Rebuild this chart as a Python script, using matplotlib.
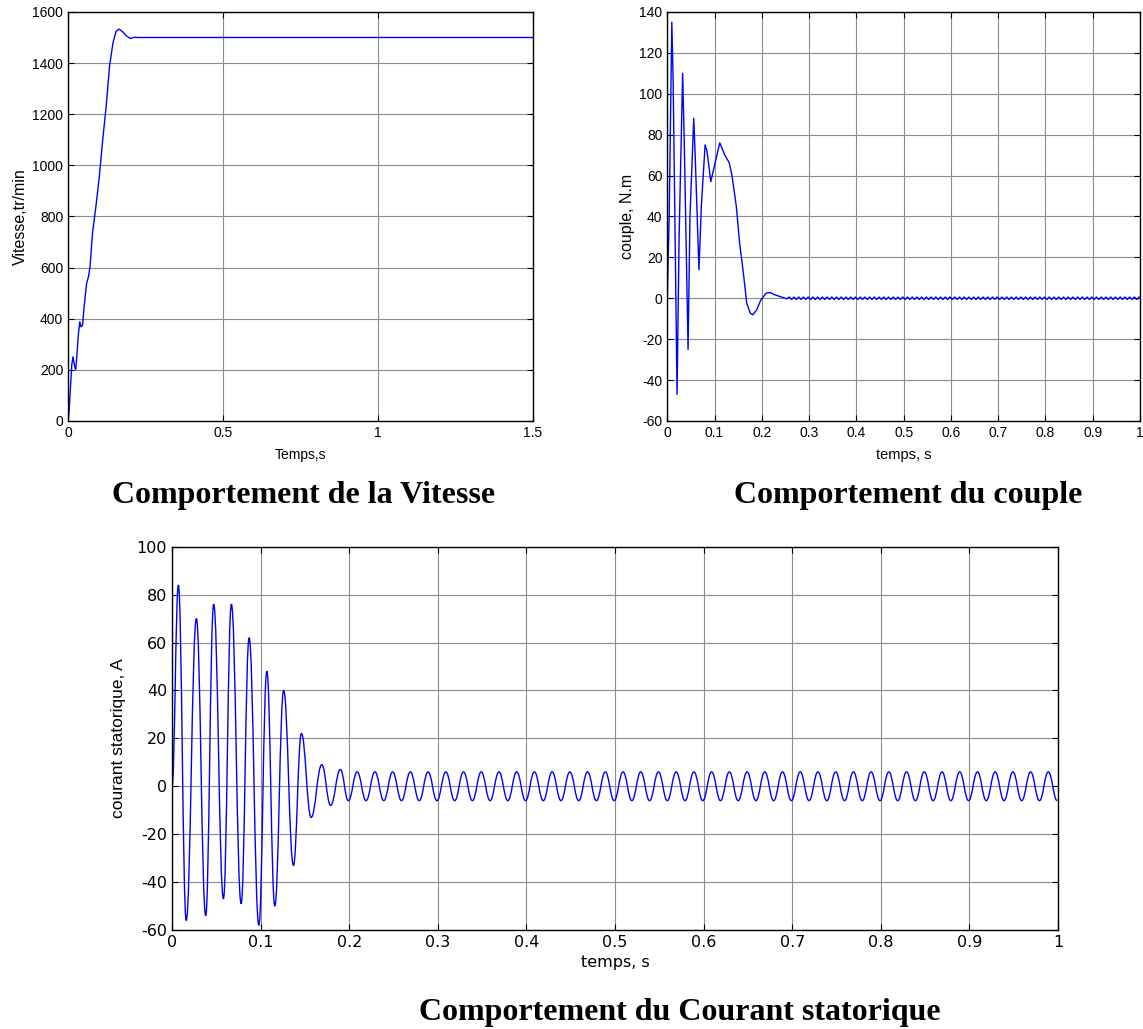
import matplotlib.pyplot as plt
import numpy as np
from matplotlib.path import Path
from matplotlib.patches import PathPatch

plt.rcParams['axes.unicode_minus'] = False

# ---- Vitesse (tr/min), points ----
vit_t = [0, 0.003, 0.0087, 0.012, 0.016, 0.0207, 0.025, 0.029, 0.0337, 0.038,
         0.042, 0.047, 0.052, 0.06, 0.066, 0.071, 0.079, 0.09, 0.101, 0.112,
         0.123, 0.134, 0.145, 0.155, 0.164, 0.175, 0.188, 0.201, 0.215, 0.226, 1.5]
vit_v = [0, 29, 146, 218, 251, 218, 201, 264, 342, 388,
         368, 375, 447, 538, 564, 603, 734, 839, 956, 1100,
         1230, 1387, 1479, 1524, 1533, 1524, 1507, 1496, 1501, 1500, 1500]

# ---- Couple (N.m), regime transitoire ----
cpl_t = [0, 0.004, 0.0096, 0.0125, 0.0207, 0.025, 0.0325, 0.036, 0.044, 0.048,
         0.056, 0.059, 0.067, 0.072, 0.080, 0.084, 0.092, 0.097, 0.111, 0.1225,
         0.131, 0.137, 0.146, 0.153, 0.161, 0.168, 0.1756, 0.181, 0.189, 0.198,
         0.209, 0.2176, 0.227, 0.238, 0.253]
cpl_v = [0, 40, 135, 105, -47, 30, 110, 75, -25, 40,
         88, 70, 14, 45, 75, 72, 57, 62, 76, 69.6,
         66.3, 59.8, 45, 27, 12.3, -2.4, -7.3, -8.1, -5.7, -0.8,
         2.5, 2.8, 1.7, 0.9, -0.3]
# ondulation en regime permanent : +-0.6 N.m, periode 0.01 s
cpl_ond_t = np.linspace(0.258, 0.998, 149)
cpl_ond_v = [0.6, -0.6] * 74 + [0.6]

# ---- Courant statorique (A) : extremums de chaque demi-periode ----
cour_t = [0, 0.0072, 0.016, 0.0275, 0.038, 0.047, 0.058, 0.067, 0.078, 0.087,
          0.098, 0.107, 0.116, 0.126, 0.137, 0.146, 0.157, 0.169, 0.179, 0.19, 0.199]
cour_v = [0, 84, -56, 70, -54, 76, -47, 76, -49, 62,
          -58, 48, -50, 40, -33, 22, -13, 9, -8, 7, -6]
# regime permanent : +-6 A, 50 Hz
cour_ss_t = np.linspace(0.209, 0.999, 80)
cour_ss_v = [6, -6] * 40

BLUE = '#0000ff'
GRID = '#8c8c8c'


def smooth_path(t, v, k=0.42):
    # courbe de Bezier entre extremums (tangentes horizontales)
    verts = [(t[0], v[0])]
    codes = [Path.MOVETO]
    for i in range(1, len(t)):
        dt = t[i] - t[i - 1]
        verts += [(t[i - 1] + k * dt, v[i - 1]), (t[i] - k * dt, v[i]), (t[i], v[i])]
        codes += [Path.CURVE4] * 3
    return Path(verts, codes)


def matlab_style(ax, labelsize=10, family='Liberation Sans'):
    ax.tick_params(direction='in', top=True, right=True, length=4, width=0.8,
                   labelsize=labelsize)
    for lab in ax.get_xticklabels() + ax.get_yticklabels():
        lab.set_family(family)
    for s in ax.spines.values():
        s.set_linewidth(1.0)
        s.set_color('black')
    ax.grid(True, color=GRID, linewidth=0.8, linestyle='-')
    ax.set_axisbelow(True)


fig = plt.figure(figsize=(11.43, 10.29), dpi=100)

# ---------- Vitesse ----------
ax1 = fig.add_axes([0.0595, 0.5909, 0.4068, 0.3975])
ax1.plot(vit_t, vit_v, color=BLUE, linewidth=1.0)
ax1.set_xlim(0, 1.5)
ax1.set_ylim(0, 1600)
ax1.set_xticks([0, 0.5, 1, 1.5])
ax1.set_xticklabels(['0', '0.5', '1', '1.5'])
ax1.set_yticks(np.arange(0, 1601, 200))
matlab_style(ax1)
ax1.set_xlabel('Temps,s', fontsize=10, family='Liberation Sans', labelpad=6)
ax1.set_ylabel('Vitesse,tr/min', fontsize=11.5, family='Liberation Sans', labelpad=3)

# ---------- Couple ----------
ax2 = fig.add_axes([0.5838, 0.5909, 0.4136, 0.3975])
ax2.plot(cpl_t + list(cpl_ond_t), cpl_v + cpl_ond_v, color=BLUE, linewidth=1.0)
ax2.set_xlim(0, 1)
ax2.set_ylim(-60, 140)
ax2.set_xticks(np.arange(0, 1.01, 0.1))
ax2.set_xticklabels(['0', '0.1', '0.2', '0.3', '0.4', '0.5', '0.6', '0.7', '0.8', '0.9', '1'])
ax2.set_yticks(np.arange(-60, 141, 20))
matlab_style(ax2)
ax2.set_xlabel('temps, s', fontsize=10.5, family='Liberation Sans', labelpad=6)
ax2.set_ylabel('couple, N.m', fontsize=11.5, family='Liberation Sans', labelpad=3)

# ---------- Courant statorique ----------
ax3 = fig.add_axes([0.1505, 0.0962, 0.7752, 0.3725])
pts_t = cour_t + list(cour_ss_t)
pts_v = cour_v + cour_ss_v
ax3.add_patch(PathPatch(smooth_path(pts_t, pts_v), facecolor='none',
                        edgecolor=BLUE, linewidth=1.0))
ax3.set_xlim(0, 1)
ax3.set_ylim(-60, 100)
ax3.set_xticks(np.arange(0, 1.01, 0.1))
ax3.set_xticklabels(['0', '0.1', '0.2', '0.3', '0.4', '0.5', '0.6', '0.7', '0.8', '0.9', '1'])
ax3.set_yticks(np.arange(-60, 101, 20))
matlab_style(ax3, labelsize=11.5, family='DejaVu Sans')
ax3.set_xlabel('temps, s', fontsize=11.5, family='DejaVu Sans', labelpad=4)
ax3.set_ylabel('courant statorique, A', fontsize=12.5,
               family=['Liberation Sans Narrow', 'Liberation Sans'], labelpad=8)

# ---------- Titres ----------
tfont = dict(family='Liberation Serif', weight='bold', fontsize=23, ha='center',
             va='baseline')
fig.text(304 / 1143, 1 - 503 / 1029, 'Comportement de la Vitesse', **tfont)
fig.text(908 / 1143, 1 - 503 / 1029, 'Comportement du couple', **tfont)
fig.text(680 / 1143, 1 - 1020 / 1029, 'Comportement du Courant statorique', **tfont)

fig.savefig('out.png', dpi=100)
